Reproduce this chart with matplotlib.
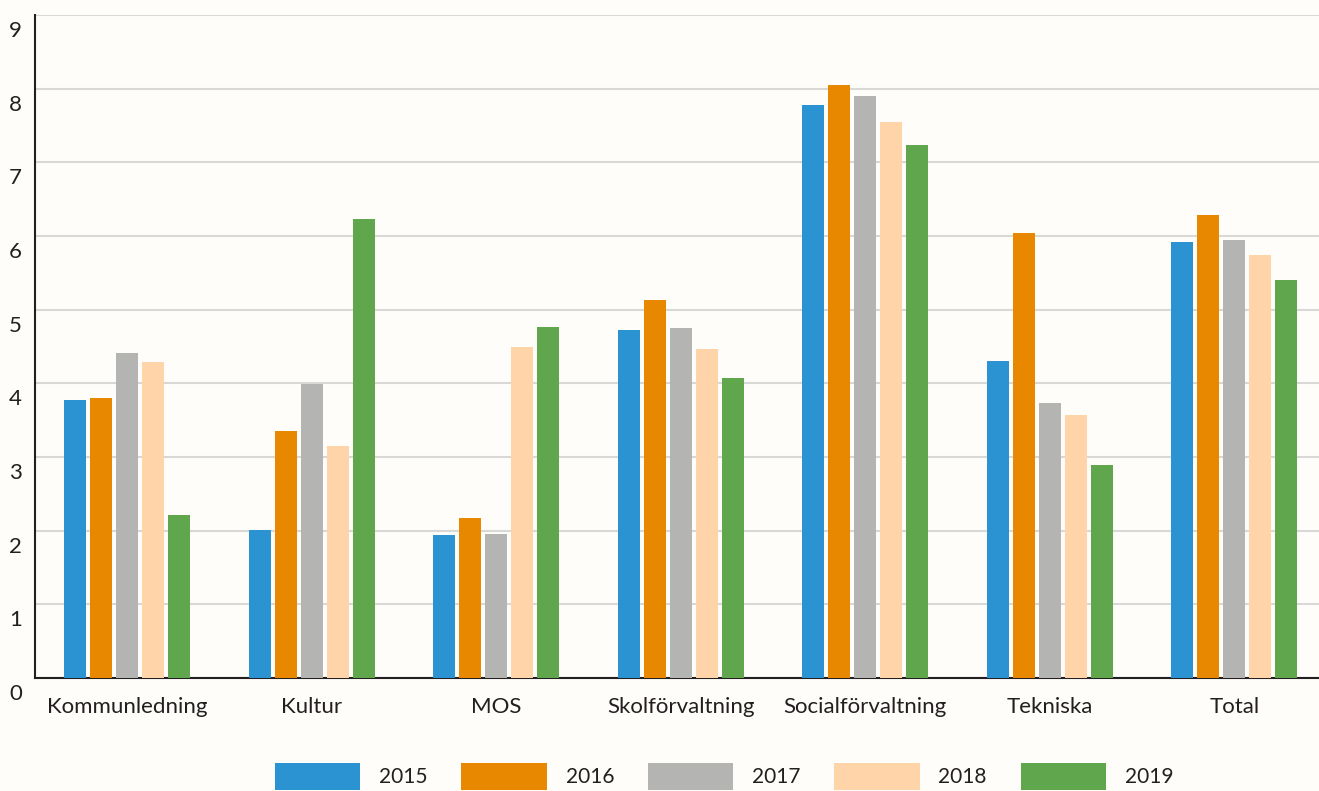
import numpy as np
import matplotlib
matplotlib.use("Agg")
import matplotlib.pyplot as plt
import matplotlib.transforms as mtransforms

categories = ["Kommunledning", "Kultur", "MOS", "Skolförvaltning",
              "Socialförvaltning", "Tekniska", "Total"]
years = ["2015", "2016", "2017", "2018", "2019"]
v2015 = [3.77, 2.01, 1.94, 4.72, 7.78, 4.30, 5.92]
v2016 = [3.80, 3.35, 2.17, 5.13, 8.05, 6.04, 6.28]
v2017 = [4.41, 3.99, 1.95, 4.75, 7.90, 3.73, 5.95]
v2018 = [4.29, 3.15, 4.49, 4.47, 7.55, 3.57, 5.74]
v2019 = [2.21, 6.23, 4.76, 4.07, 7.24, 2.89, 5.40]
colors = ["#2b93d1", "#e88700", "#b4b4b2", "#ffd4a8", "#60a64d"]

ink = "#231f20"
bg = "#fefdf9"
plt.rcParams["font.family"] = ["Lato", "DejaVu Sans"]

fig = plt.figure(figsize=(13.19, 7.91), dpi=100, facecolor=bg)
ax = fig.add_axes([35 / 1319, 1 - 678 / 791, 1291.5 / 1319, 663 / 791])
ax.set_facecolor(bg)

x = np.arange(len(categories))
width = 0.119
step = 0.141
series = [v2015, v2016, v2017, v2018, v2019]
for i, (vals, c, yr) in enumerate(zip(series, colors, years)):
    ax.bar(x + (i - 2) * step, vals, width, color=c, label=yr, zorder=3)

ax.set_xlim(-0.5, len(categories) - 0.5)
ax.set_ylim(0, 9)
ax.set_yticks(range(10))
ax.yaxis.grid(True, color="#d8d8d6", linewidth=1.5, zorder=0)
ax.set_axisbelow(True)
ax.tick_params(axis="both", length=0, labelsize=16, colors=ink)
ax.tick_params(axis="y", pad=14)
ax.tick_params(axis="x", pad=14)
ax.set_xticks(x)
ax.set_xticklabels(categories)

offset = mtransforms.ScaledTranslation(0, -14 / 100, fig.dpi_scale_trans)
for lab in ax.get_yticklabels():
    lab.set_transform(lab.get_transform() + offset)
    lab.set_horizontalalignment("center")

for s in ["top", "right"]:
    ax.spines[s].set_visible(False)
ax.spines["left"].set_color(ink)
ax.spines["bottom"].set_color(ink)
ax.spines["left"].set_linewidth(1.5)
ax.spines["bottom"].set_linewidth(1.5)

fig.legend(loc="upper left", bbox_to_anchor=(275 / 1319, 1 - 763 / 791),
           ncol=5, frameon=False, fontsize=15, handlelength=4.1,
           handleheight=1.6, handletextpad=0.9, columnspacing=1.62,
           borderpad=0, borderaxespad=0, labelcolor=ink)

fig.savefig("out.png", dpi=100, facecolor=bg)
